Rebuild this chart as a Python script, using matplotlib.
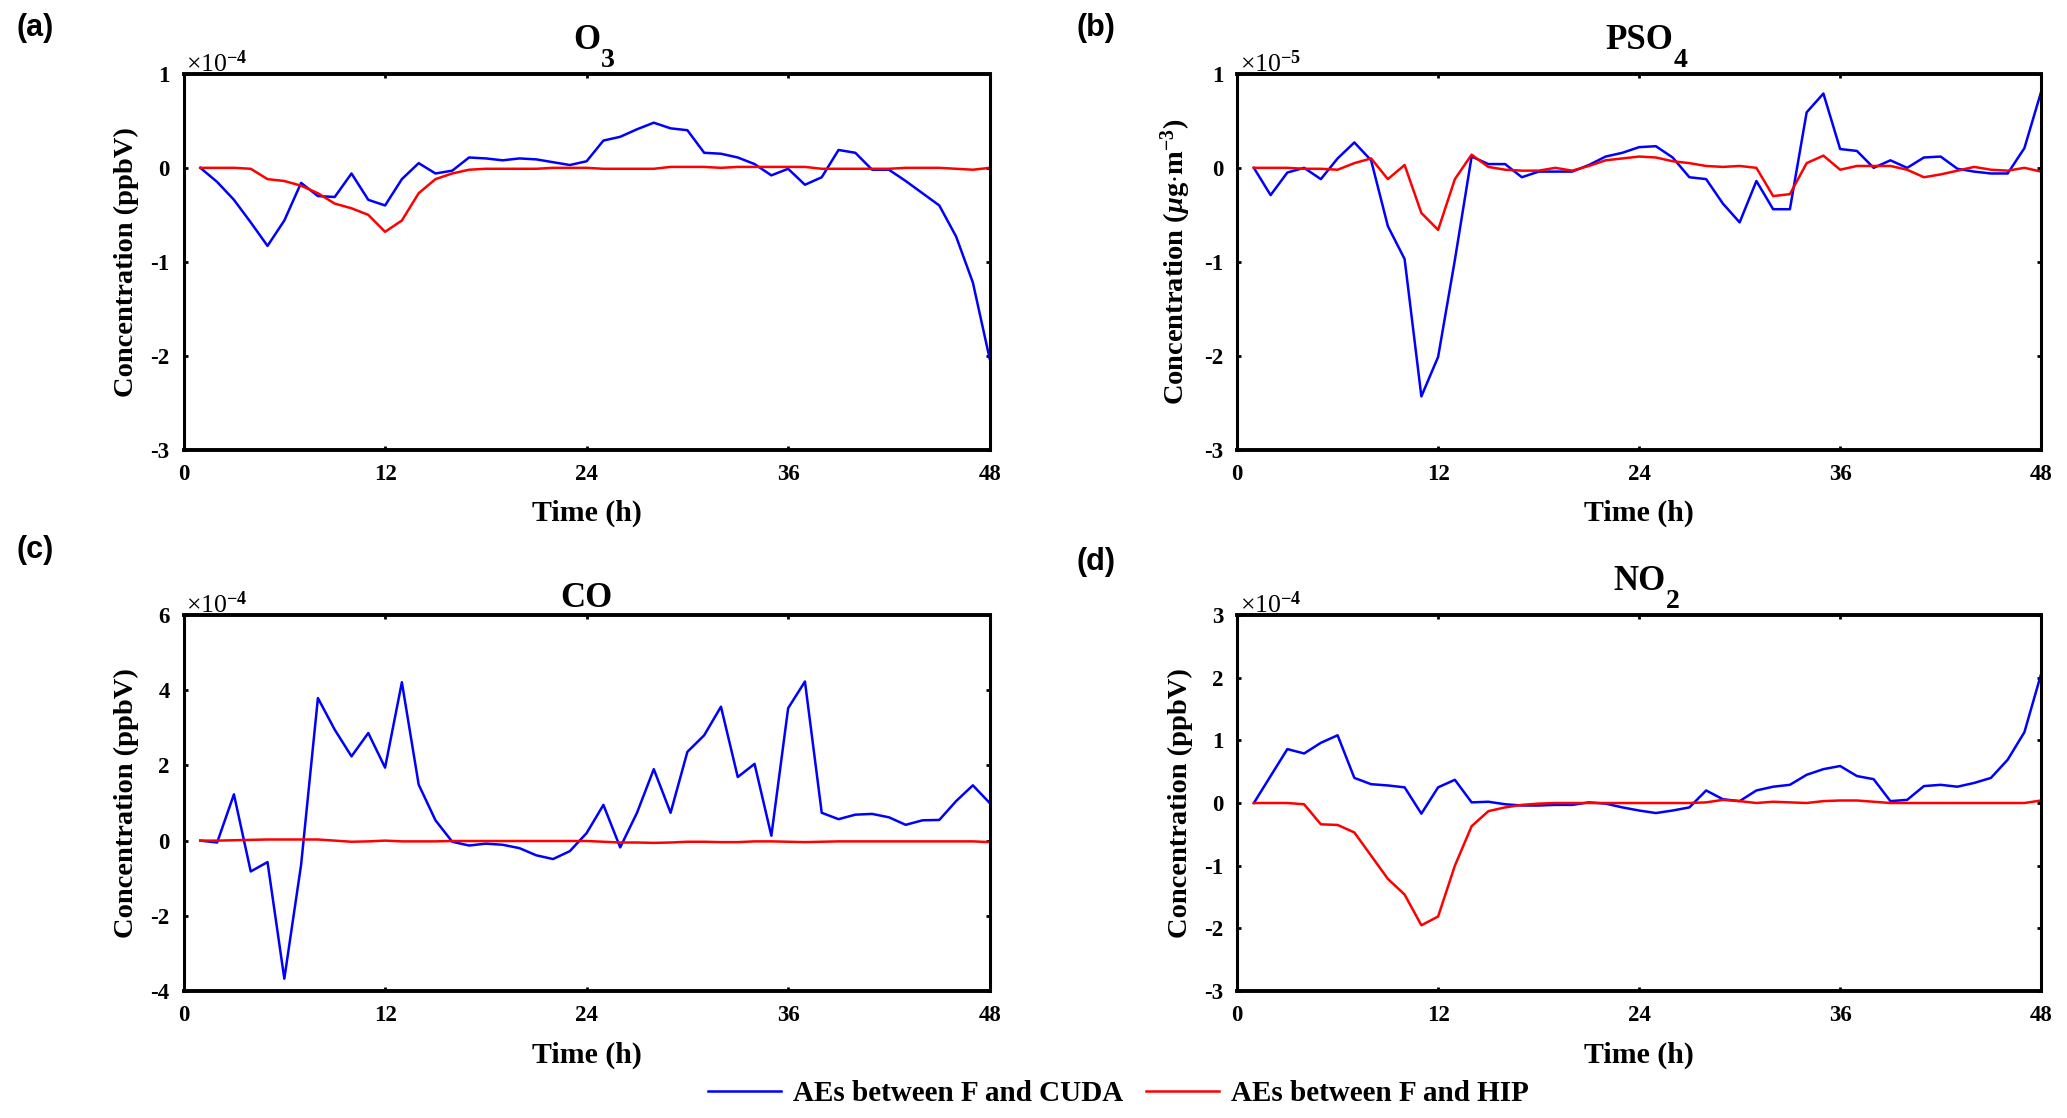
import matplotlib
matplotlib.use("Agg")
import matplotlib.pyplot as plt
import numpy as np

plt.rcParams['font.family'] = ['Liberation Serif', 'DejaVu Serif']
plt.rcParams['axes.unicode_minus'] = False
plt.rcParams['mathtext.fontset'] = 'custom'
plt.rcParams['mathtext.rm'] = 'Liberation Serif:bold'
plt.rcParams['mathtext.bf'] = 'Liberation Serif:bold'
plt.rcParams['mathtext.it'] = 'Liberation Serif:italic:bold'

# --- data (hours 1..48), values in units of the panel multiplier ---
hours = list(range(1, 49))

o3_cuda = [0, -0.15, -0.34, -0.58, -0.83, -0.56, -0.16, -0.30, -0.31, -0.06,
           -0.34, -0.40, -0.12, 0.05, -0.06, -0.03, 0.11, 0.10, 0.08, 0.10,
           0.09, 0.06, 0.03, 0.07, 0.29, 0.33, 0.41, 0.48, 0.42, 0.40,
           0.16, 0.15, 0.11, 0.04, -0.08, -0.01, -0.18, -0.10, 0.19, 0.16,
           -0.02, -0.02, -0.14, -0.27, -0.40, -0.73, -1.22, -2.03]
o3_hip = [0, 0, 0, -0.01, -0.12, -0.14, -0.19, -0.27, -0.38, -0.43,
          -0.50, -0.68, -0.56, -0.27, -0.12, -0.06, -0.02, -0.01, -0.01, -0.01,
          -0.01, 0, 0, 0, -0.01, -0.01, -0.01, -0.01, 0.01, 0.01,
          0.01, 0, 0.01, 0.01, 0.01, 0.01, 0.01, -0.01, -0.01, -0.01,
          -0.01, -0.01, 0, 0, 0, -0.01, -0.02, 0]

pso4_cuda = [0, -0.29, -0.05, 0, -0.12, 0.10, 0.27, 0.08, -0.62, -0.97,
             -2.43, -2.01, -0.98, 0.12, 0.04, 0.04, -0.10, -0.04, -0.04, -0.04,
             0.03, 0.12, 0.16, 0.22, 0.23, 0.11, -0.10, -0.12, -0.38, -0.58,
             -0.14, -0.44, -0.44, 0.59, 0.79, 0.20, 0.18, 0.0, 0.08, 0,
             0.11, 0.12, -0.01, -0.04, -0.06, -0.06, 0.21, 0.81]
pso4_hip = [0, 0, 0, -0.01, -0.01, -0.02, 0.05, 0.10, -0.12, 0.03,
            -0.48, -0.66, -0.12, 0.14, 0.01, -0.02, -0.03, -0.03, 0.0, -0.03,
            0.02, 0.08, 0.10, 0.12, 0.11, 0.07, 0.05, 0.02, 0.01, 0.02,
            0.0, -0.30, -0.28, 0.05, 0.13, -0.02, 0.02, 0.02, 0.02, -0.02,
            -0.10, -0.07, -0.03, 0.01, -0.02, -0.03, 0.0, -0.04]

co_cuda = [0, -0.05, 1.23, -0.82, -0.57, -3.67, -0.64, 3.79, 2.95, 2.24,
           2.86, 1.94, 4.21, 1.49, 0.54, -0.03, -0.13, -0.08, -0.11, -0.20,
           -0.39, -0.49, -0.28, 0.20, 0.95, -0.18, 0.74, 1.90, 0.74, 2.36,
           2.80, 3.56, 1.69, 2.04, 0.13, 3.52, 4.23, 0.74, 0.57, 0.69,
           0.71, 0.62, 0.42, 0.54, 0.55, 1.05, 1.47, 1.00]
co_hip = [0, 0, 0.01, 0.02, 0.03, 0.03, 0.03, 0.03, 0.0, -0.03,
          -0.02, 0, -0.02, -0.02, -0.02, -0.01, -0.01, -0.01, -0.01, -0.01,
          -0.01, -0.01, -0.01, -0.01, -0.03, -0.05, -0.05, -0.06, -0.05, -0.03,
          -0.03, -0.04, -0.04, -0.02, -0.02, -0.03, -0.04, -0.03, -0.02, -0.02,
          -0.02, -0.02, -0.02, -0.02, -0.02, -0.02, -0.02, -0.04]

no2_cuda = [0, 0.43, 0.86, 0.79, 0.96, 1.08, 0.40, 0.30, 0.28, 0.25,
            -0.17, 0.25, 0.37, 0.01, 0.02, -0.02, -0.04, -0.04, -0.03, -0.03,
            0.01, -0.01, -0.07, -0.12, -0.16, -0.12, -0.07, 0.20, 0.06, 0.03,
            0.20, 0.26, 0.29, 0.45, 0.54, 0.59, 0.43, 0.38, 0.03, 0.05,
            0.27, 0.29, 0.26, 0.32, 0.40, 0.69, 1.13, 2.06]
no2_hip = [0, 0, 0, -0.02, -0.34, -0.35, -0.47, -0.84, -1.21, -1.46,
           -1.95, -1.81, -1.00, -0.37, -0.13, -0.07, -0.03, -0.01, 0, 0,
           0, 0, 0, 0, 0, 0, 0, 0.01, 0.05, 0.03,
           0.0, 0.02, 0.01, 0.0, 0.03, 0.04, 0.04, 0.02, 0.0, 0,
           0, 0, 0, 0, 0, 0, 0, 0.04]

# (tag, title, subscript, ylabel, exponent, ylim, ystep, cuda, hip)
panels = [
    ('(a)', 'O', '3', 'Concentration (ppbV)', -4, (-3, 1), 1, o3_cuda, o3_hip),
    ('(b)', 'PSO', '4', r'Concentration ($\mu$g$\cdot$m$^{-3}$)', -5, (-3, 1), 1, pso4_cuda, pso4_hip),
    ('(c)', 'CO', '', 'Concentration (ppbV)', -4, (-4, 6), 2, co_cuda, co_hip),
    ('(d)', 'NO', '2', 'Concentration (ppbV)', -4, (-3, 3), 1, no2_cuda, no2_hip),
]

# axes rectangles [left, bottom, width, height] in figure fraction
rects = [
    [0.0888, 0.5975, 0.390, 0.3365],
    [0.5985, 0.5975, 0.389, 0.3365],
    [0.0888, 0.1135, 0.390, 0.3365],
    [0.5985, 0.1135, 0.389, 0.3365],
]
label_pos = [(0.008, 0.975), (0.521, 0.975), (0.008, 0.508), (0.521, 0.497)]

fig = plt.figure(figsize=(20.67, 11.18), dpi=100)

for (tag, title, sub, ylab, expo, ylim, ystep, blue, red), rect, lp in zip(panels, rects, label_pos):
    ax = fig.add_axes(rect)
    l1, = ax.plot(hours, blue, color='#0000ff', lw=1.8, label='AEs between F and CUDA')
    l2, = ax.plot(hours, red, color='#ff0000', lw=1.8, label='AEs between F and HIP')
    ax.set_xlim(0, 48)
    ax.set_ylim(*ylim)
    ax.set_xticks([0, 12, 24, 36, 48])
    ax.set_yticks(np.arange(ylim[0], ylim[1] + 1, ystep))
    ax.tick_params(direction='in', top=True, right=True, length=3, width=2,
                   labelsize=16.5, pad=10)
    for lab in ax.get_xticklabels() + ax.get_yticklabels():
        lab.set_fontweight('bold')
    for side, sp in ax.spines.items():
        sp.set_linewidth(2.8 if side in ('top', 'bottom') else 2.2)
    ax.set_xlabel('Time (h)', fontsize=21.5, fontweight='bold', labelpad=11)
    ax.set_ylabel(ylab, fontsize=20.5, fontweight='bold', labelpad=8)

    # title with a large, low subscript
    ty = 1.066 if sub else 1.02
    t = ax.text(0.5, ty, title, transform=ax.transAxes, ha='center', va='baseline',
                fontsize=25, fontweight='bold')
    if sub:
        ax.annotate(sub, xy=(1, 0), xycoords=t, xytext=(1, -10), textcoords='offset pixels',
                    ha='left', va='baseline', fontsize=20, fontweight='bold')

    ax.text(0.003, 1.004, '×10$^{%d}$' % expo, transform=ax.transAxes,
            ha='left', va='baseline', fontsize=18.5)
    fig.text(lp[0], lp[1], tag, fontsize=22, fontweight='bold',
             family='Liberation Sans', ha='left', va='center')

leg = fig.legend(handles=[l1, l2], loc='center', bbox_to_anchor=(0.541, 0.022),
                 ncol=2, frameon=False, prop={'size': 21, 'weight': 'bold'},
                 handlelength=2.5, columnspacing=0.8, handletextpad=0.4)

fig.savefig('out.png', dpi=100)
